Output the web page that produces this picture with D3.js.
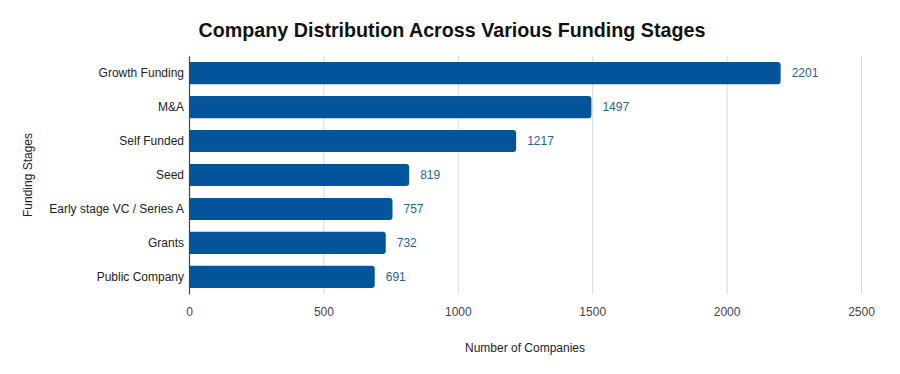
<!DOCTYPE html>
<html>
<head>
<meta charset="utf-8">
<script src="https://cdn.jsdelivr.net/npm/d3@7"></script>
<style>
  body { margin: 0; background: #fff; }
  svg text { font-family: "Liberation Sans", Arial, sans-serif; }
  .grid line { stroke: #d9d9d9; }
  .grid path { display: none; }
</style>
</head>
<body>
<div id="chart"></div>
<script>
var stages = ["Growth Funding", "M&A", "Self Funded", "Seed", "Early stage VC / Series A", "Grants", "Public Company"];
var companies = [2201, 1497, 1217, 819, 757, 732, 691];
var xTicks = [0, 500, 1000, 1500, 2000, 2500];

var width = 900, height = 374;
var margin = { top: 56, right: 39, bottom: 80, left: 189 };
var w = width - margin.left - margin.right;
var h = height - margin.top - margin.bottom;

var svg = d3.select("#chart").append("svg")
  .attr("width", width)
  .attr("height", height);

// title
svg.append("text")
  .attr("x", 452).attr("y", 37)
  .attr("text-anchor", "middle")
  .style("font-size", "19.7px")
  .style("font-weight", "bold")
  .attr("fill", "#111")
  .text("Company Distribution Across Various Funding Stages");

var g = svg.append("g")
  .attr("transform", "translate(" + margin.left + "," + margin.top + ")");

var x = d3.scaleLinear().domain([0, 2500]).range([0, w]);
var y = d3.scaleBand().domain(stages).range([0, h]).paddingInner(0.35).paddingOuter(0.18);

// gridlines
g.append("g")
  .attr("class", "grid")
  .attr("transform", "translate(0," + h + ")")
  .call(d3.axisBottom(x).tickValues(xTicks).tickSize(-h).tickFormat(""));

// bars
var data = stages.map(function(s, i) { return { stage: s, value: companies[i] }; });

g.selectAll(".bar").data(data).enter()
  .append("path")
  .attr("class", "bar")
  .attr("fill", "#03559b")
  .attr("d", function(d) {
    var x1 = x(d.value), y0 = y(d.stage), bh = y.bandwidth(), r = 3;
    return "M0," + y0 + "H" + (x1 - r) + "Q" + x1 + "," + y0 + " " + x1 + "," + (y0 + r) +
      "V" + (y0 + bh - r) + "Q" + x1 + "," + (y0 + bh) + " " + (x1 - r) + "," + (y0 + bh) + "H0Z";
  });

// value labels
g.selectAll(".val").data(data).enter()
  .append("text")
  .attr("x", function(d) { return x(d.value) + 11; })
  .attr("y", function(d) { return y(d.stage) + y.bandwidth() / 2; })
  .attr("dy", "0.35em")
  .style("font-size", "12px")
  .attr("fill", "#2a5f93")
  .text(function(d) { return d.value; });

// y axis
var yAxis = g.append("g")
  .call(d3.axisLeft(y).tickSize(0).tickPadding(5));
yAxis.select(".domain").attr("stroke", "#444").attr("stroke-width", 1.2);
yAxis.selectAll("text")
  .style("font-size", "12px")
  .attr("fill", "#222")
  .style("font-family", "\"Liberation Sans\", Arial, sans-serif");

// x axis labels
var xAxis = g.append("g")
  .attr("transform", "translate(0," + h + ")")
  .call(d3.axisBottom(x).tickValues(xTicks).tickFormat(d3.format("d")).tickSize(0).tickPadding(13));
xAxis.select(".domain").remove();
xAxis.selectAll("text")
  .style("font-size", "12px")
  .attr("fill", "#444")
  .style("font-family", "\"Liberation Sans\", Arial, sans-serif");

// axis titles
svg.append("text")
  .attr("x", margin.left + x(1250)).attr("y", 352)
  .attr("text-anchor", "middle")
  .style("font-size", "12px")
  .attr("fill", "#222")
  .text("Number of Companies");

svg.append("text")
  .attr("transform", "translate(32," + (margin.top + h / 2) + ") rotate(-90)")
  .attr("text-anchor", "middle")
  .style("font-size", "12px")
  .attr("fill", "#222")
  .text("Funding Stages");
</script>
</body>
</html>
